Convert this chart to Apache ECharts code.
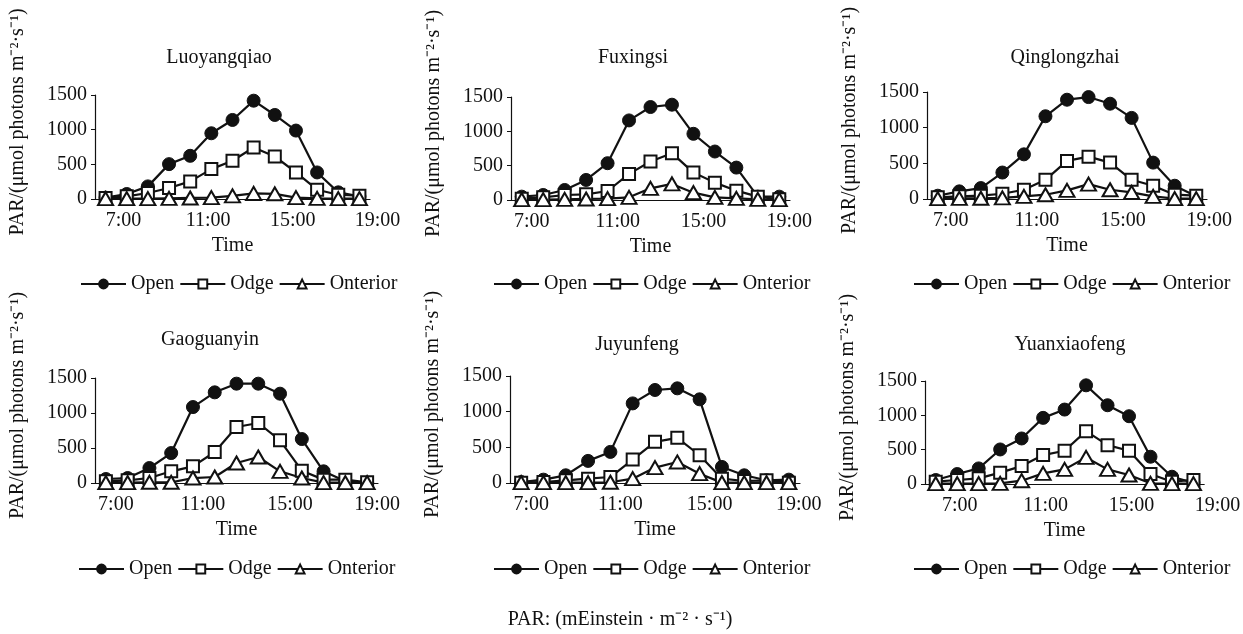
<!DOCTYPE html>
<html>
<head>
<meta charset="utf-8">
<script src="https://cdn.jsdelivr.net/npm/echarts@6/dist/echarts.min.js"></script>
<style>
  html, body { margin: 0; padding: 0; background: #fff; }
  #chart { width: 1243px; height: 634px; }
</style>
</head>
<body>
<div id="chart"></div>
<script>
const HOURS = ['7:00','8:00','9:00','10:00','11:00','12:00','13:00','14:00','15:00','16:00','17:00','18:00','19:00'];
const SITES = ['Luoyangqiao','Fuxingsi','Qinglongzhai','Gaoguanyin','Juyunfeng','Yuanxiaofeng'];
const SERIES_NAMES = ['Open','Odge','Onterior'];

// PAR per site, hourly
const OPEN = [
    [20, 72, 182, 503, 623, 948, 1140, 1418, 1212, 987, 383, 96, 38],
    [49, 73, 146, 292, 536, 1159, 1354, 1388, 964, 706, 472, 49, 49],
    [46, 107, 153, 371, 626, 1160, 1392, 1429, 1336, 1137, 510, 186, 37],
    [57, 71, 214, 428, 1085, 1295, 1419, 1419, 1276, 628, 167, 24, 5],
    [14, 47, 108, 310, 436, 1116, 1304, 1327, 1173, 225, 108, 38, 47],
    [58, 145, 227, 503, 663, 963, 1084, 1437, 1147, 987, 397, 106, 19]
];
const ODGE = [
    [14, 38, 86, 158, 254, 431, 551, 742, 613, 383, 134, 62, 48],
    [20, 39, 73, 83, 131, 380, 560, 682, 399, 253, 136, 49, 10],
    [23, 37, 46, 74, 130, 269, 534, 594, 510, 269, 186, 60, 46],
    [24, 38, 71, 167, 238, 443, 800, 857, 609, 176, 48, 48, 10],
    [5, 14, 38, 61, 84, 328, 577, 633, 389, 61, 28, 38, 5],
    [34, 58, 82, 165, 261, 421, 484, 770, 566, 484, 145, 34, 58]
];
const ONTERIOR = [
    [5, 5, 5, 10, 15, 20, 45, 80, 75, 20, 10, 5, 5],
    [5, 5, 10, 15, 20, 39, 170, 234, 107, 39, 24, 10, 5],
    [5, 8, 10, 15, 37, 60, 121, 209, 130, 93, 37, 5, 5],
    [5, 5, 10, 10, 71, 86, 286, 371, 167, 71, 5, 5, 5],
    [5, 5, 5, 5, 10, 61, 216, 295, 131, 5, 5, 5, 5],
    [5, 5, 5, 10, 48, 155, 213, 387, 213, 131, 10, 5, 5]
];
const Y_TICKS = [0, 500, 1000, 1500];

// panel placement: [left, top, width, height], label shift, title x/y, legend left/top
const PANELS = [
    { grid: [95, 95, 275, 104], shift: 18, titleX: 219, titleTop: 48, legendLeft: 80, legendTop: 274 },
    { grid: [511, 97, 279, 103], shift: 10, titleX: 633, titleTop: 48, legendLeft: 493, legendTop: 274 },
    { grid: [927, 92, 280, 107], shift: 13, titleX: 1065, titleTop: 48, legendLeft: 913, legendTop: 274 },
    { grid: [95, 378, 283, 105], shift: 10, titleX: 210, titleTop: 330, legendLeft: 78, legendTop: 559 },
    { grid: [510, 376, 290, 107], shift: 10, titleX: 637, titleTop: 335, legendLeft: 493, legendTop: 559 },
    { grid: [925, 381, 285, 103], shift: 24, titleX: 1070, titleTop: 335, legendLeft: 913, legendTop: 559 }
];

const FONT = "'Liberation Serif', 'Times New Roman', serif";
const INK = '#111';

function buildOption() {
    const titles = [], grids = [], xAxes = [], yAxes = [], legends = [], series = [];
    PANELS.forEach((p, i) => {
        const [l, t, w, h] = p.grid;
        grids.push({ left: l, top: t, width: w, height: h, containLabel: false });
        titles.push({
            text: SITES[i],
            left: p.titleX,
            top: p.titleTop,
            padding: 0,
            textAlign: 'center',
            textStyle: { fontFamily: FONT, fontSize: 20, fontWeight: 'normal', color: INK }
        });
        xAxes.push({
            type: 'category',
            gridIndex: i,
            data: HOURS,
            boundaryGap: true,
            name: 'Time',
            nameLocation: 'middle',
            nameGap: 37,
            nameTextStyle: { fontFamily: FONT, fontSize: 20, color: INK },
            axisLine: { lineStyle: { color: INK, width: 1.2 } },
            axisTick: { inside: true, length: 5, interval: 0, lineStyle: { color: INK } },
            axisLabel: {
                interval: 3,
                margin: 12,
                fontFamily: FONT, fontSize: 20, color: INK,
                padding: [0, 0, 0, p.shift * 2]
            },
            splitLine: { show: false }
        });
        yAxes.push({
            type: 'value',
            gridIndex: i,
            min: Y_TICKS[0],
            max: Y_TICKS[Y_TICKS.length - 1],
            interval: 500,
            name: 'PAR/(μmol photons m⁻²·s⁻¹)',
            nameLocation: 'middle',
            nameRotate: 90,
            nameGap: 67,
            nameTextStyle: { fontFamily: FONT, fontSize: 20, color: INK, padding: [0, 0, 0, 50] },
            axisLine: { show: true, lineStyle: { color: INK, width: 1.2 } },
            axisTick: { show: true, inside: false, length: 4, lineStyle: { color: INK } },
            axisLabel: {
                margin: 8, fontFamily: FONT, fontSize: 20, color: INK,
                formatter: (v) => String(v)
            },
            splitLine: { show: false }
        });
        legends.push({
            data: SERIES_NAMES,
            left: p.legendLeft,
            top: p.legendTop,
            padding: 0,
            itemWidth: 45,
            itemHeight: 11,
            itemGap: 5,
            textStyle: { fontFamily: FONT, fontSize: 20, color: INK },
            selectedMode: false
        });
        const common = {
            type: 'line',
            xAxisIndex: i,
            yAxisIndex: i,
            showSymbol: true,
            showAllSymbol: true,
            lineStyle: { color: INK, width: 2.2 },
            emphasis: { disabled: true }
        };
        series.push(Object.assign({}, common, {
            name: 'Open', data: OPEN[i], symbol: 'circle', symbolSize: 13,
            itemStyle: { color: INK, borderColor: INK, borderWidth: 1 }
        }));
        series.push(Object.assign({}, common, {
            name: 'Odge', data: ODGE[i], symbol: 'rect', symbolSize: 12,
            itemStyle: { color: '#fff', borderColor: INK, borderWidth: 2 }
        }));
        series.push(Object.assign({}, common, {
            name: 'Onterior', data: ONTERIOR[i], symbol: 'triangle', symbolSize: [15, 13],
            itemStyle: { color: '#fff', borderColor: INK, borderWidth: 2 }
        }));
    });
    titles.push({
        text: 'PAR: (mEinstein · m⁻² · s⁻¹)',
        left: 620,
        top: 610,
        padding: 0,
        textAlign: 'center',
        textStyle: { fontFamily: FONT, fontSize: 20, fontWeight: 'normal', color: INK }
    });
    return {
        backgroundColor: '#fff',
        animation: false,
        title: titles,
        grid: grids,
        xAxis: xAxes,
        yAxis: yAxes,
        legend: legends,
        series: series
    };
}

const chart = echarts.init(document.getElementById('chart'));
chart.setOption(buildOption());
</script>
</body>
</html>
